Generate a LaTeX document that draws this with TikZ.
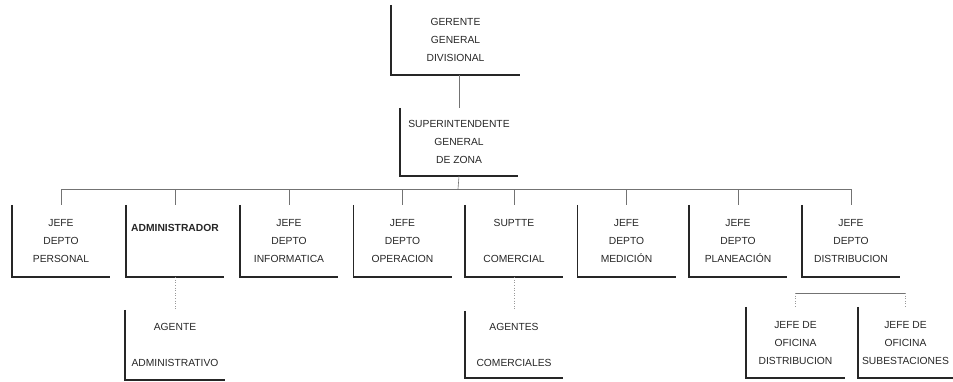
\documentclass[tikz,border=0pt]{standalone}
\usepackage{fontspec}
\setmainfont{Liberation Sans}
\begin{document}
\begin{tikzpicture}[x=1pt,y=-1pt,
  box/.style={inner sep=0pt,minimum width=#1,align=center,text=black!85,
    font=\fontsize{10.3}{18}\selectfont},
  box/.default=98,
  frame/.style={line width=1.6pt,black!85},
  conn/.style={line width=0.6pt,black!55},
  faint/.style={line width=0.6pt,black!40,dotted}]
\useasboundingbox (0,0) rectangle (953,381);
% boxes: text nodes with minimum height defining the frame
\node[box=129,minimum height=70] (G) at (455.5,40) {GERENTE\\GENERAL\\DIVISIONAL};
\node[box=118,minimum height=68] (S) at (459,142) {SUPERINTENDENTE\\GENERAL\\DE ZONA};
\node[box,minimum height=72] (B1) at (61,241) {JEFE\\DEPTO\\PERSONAL};
\node[box,minimum height=72] (B2) at (175,241) {\textbf{ADMINISTRADOR}\\[8pt]\mbox{}};
\node[box,minimum height=72] (B3) at (289,241) {JEFE\\DEPTO\\INFORMATICA};
\node[box,minimum height=72] (B4) at (402.5,241) {JEFE\\DEPTO\\OPERACION};
\node[box,minimum height=72] (B5) at (514,241) {SUPTTE\\ \\COMERCIAL};
\node[box,minimum height=72] (B6) at (626.5,241) {JEFE\\DEPTO\\MEDICIÓN};
\node[box,minimum height=72] (B7) at (738,241) {JEFE\\DEPTO\\PLANEACIÓN};
\node[box,minimum height=72] (B8) at (851,241) {JEFE\\DEPTO\\DISTRIBUCION};
\node[box=100,minimum height=70] (AA) at (175,345) {AGENTE\\ \\ADMINISTRATIVO};
\node[box,minimum height=67] (AC) at (514,344.5) {AGENTES\\ \\COMERCIALES};
\node[box=99,minimum height=71] (D1) at (795.5,342.5) {JEFE DE\\OFICINA\\DISTRIBUCION};
\node[box=95,minimum height=71] (D2) at (905.5,342.5) {JEFE DE\\OFICINA\\SUBESTACIONES};
% open frames (left and bottom sides)
\foreach \n in {G,S,B1,B2,B3,B4,B5,B6,B7,B8,AA,AC,D1,D2}
  \draw[frame] (\n.north west) -- (\n.south west) -- (\n.south east);
% connectors
\coordinate (bus) at (458,189);
\coordinate (sub) at (851,293);
\draw[conn] (S.north |- G.south) -- (S.north);
\draw[conn] (S.south) -- (bus);
\draw[conn] (B1.north |- bus) -- (B8.north |- bus);
\foreach \n in {B1,B2,B3,B4,B5,B6,B7,B8}
  \draw[conn] (\n.north |- bus) -- (\n.north);
\draw[conn] (D1.north |- sub) -- (D2.north |- sub);
\foreach \n in {D1,D2}
  \draw[faint] (\n.north |- sub) -- (\n.north);
\draw[faint] (B2.south) -- (AA.north);
\draw[faint] (B5.south) -- (AC.north);
\end{tikzpicture}
\end{document}
